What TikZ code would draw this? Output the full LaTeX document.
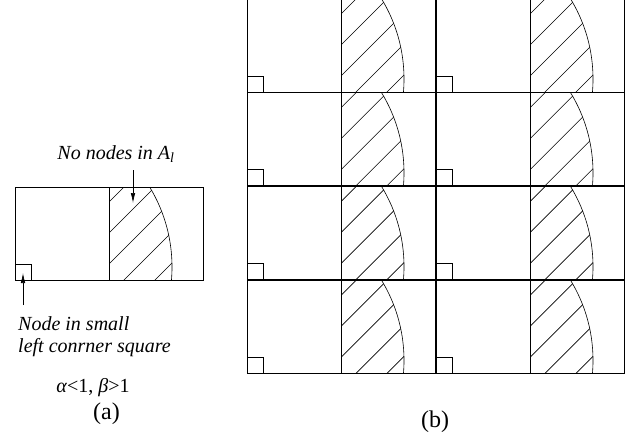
\documentclass[tikz,border=0pt]{standalone}
\usepackage{fontspec}
\setmainfont{Liberation Serif}
\usetikzlibrary{positioning,arrows.meta}
\tikzset{
  cell-line/.style={draw=black,line width=0.9pt},
  hatch-line/.style={draw=black,line width=0.6pt},
  pointer/.style={-{Latex[length=10pt,width=4.5pt]},line width=0.7pt},
  note/.style={font=\fontsize{20}{22}\selectfont\itshape,align=left,inner sep=0pt},
  cond-text/.style={font=\fontsize{20}{22}\selectfont,inner sep=0pt},
  part-tag/.style={font=\fontsize{24}{26}\selectfont,inner sep=0pt},
  % one cell: left half free, right half hatched up to the range arc
  cell/.pic={
    \draw[cell-line] (0,0) rectangle (188,93);
    \draw[cell-line] (94,0) -- (94,93);
    \draw[cell-line] (0,77) rectangle (16,93);
    \begin{scope}
      \clip (94,0) rectangle (188,93);
      \draw[hatch-line] (3,80) circle[radius=154];
      \clip (3,80) circle[radius=154];
      \foreach \s in {109,140,...,233}
        \draw[hatch-line] (\s-100,100) -- (\s+10,-10);
    \end{scope}
  },
}
\begin{document}
\begin{tikzpicture}[x=1pt,y=-1pt]
  \useasboundingbox (0,0) rectangle (628,442);
  \clip (0,0) rectangle (628,442);
  % (a) a single cell
  \pic at (15,187) {cell};
  \coordinate (tipA) at (133,203);
  \coordinate (tipB) at (23,273);
  \node[note,anchor=base] (noA) at (116,159) {No nodes in A\textsubscript{l}};
  \node[note,anchor=north west] (inSq) at (18,316) {Node in small\\left conrner square};
  \draw[pointer] ([yshift=-8pt]noA.south -| tipA) -- (tipA);
  \draw[pointer] ([yshift=11pt]inSq.north -| tipB) -- (tipB);
  \node[cond-text] (cond) at (93,388) {\textit{α}<1, \textit{β}>1};
  \node[part-tag] (tagA) at (106.5,414) {(a)};
  % (b) the grid of cells
  \foreach \col in {247,436}
    \foreach \row in {-1,92.8,186.6,280.4}
      \pic at (\col,\row) {cell};
  \node[part-tag] (tagB) at (435,422) {(b)};
\end{tikzpicture}
\end{document}
